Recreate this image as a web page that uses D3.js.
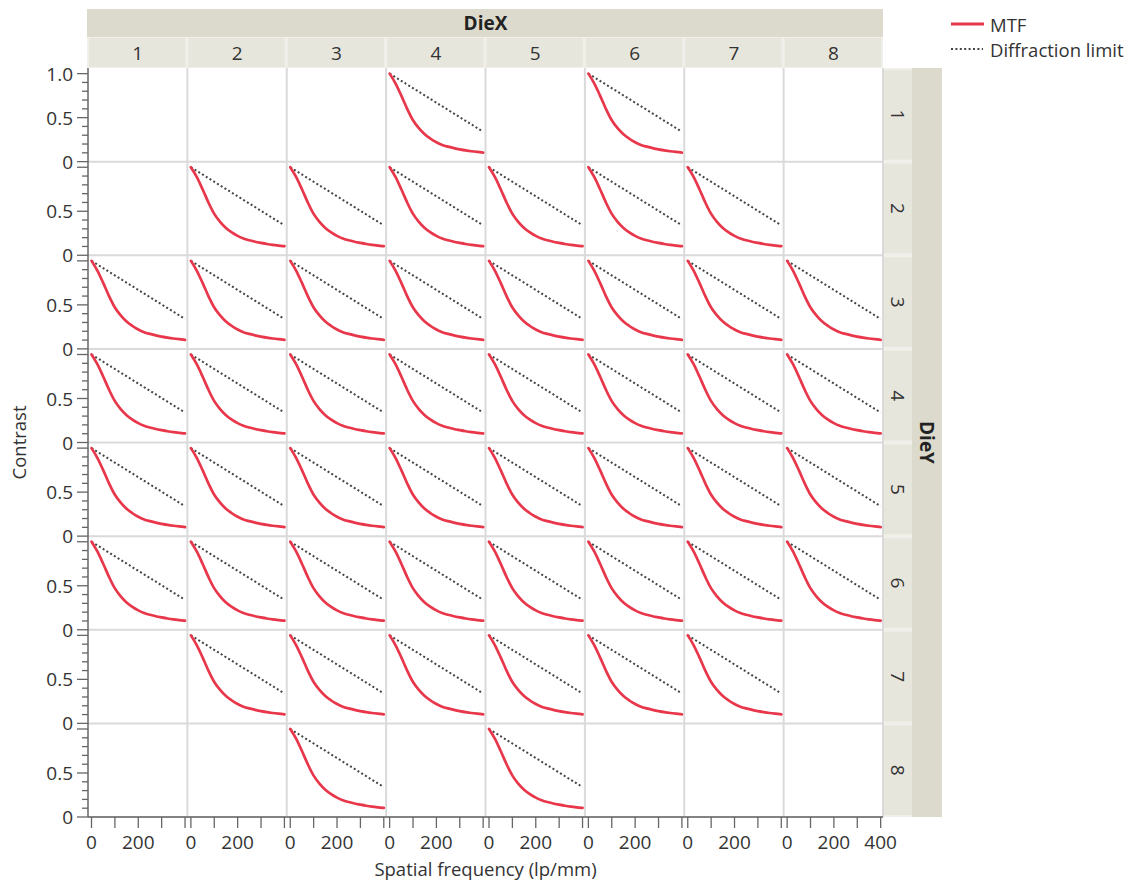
<!DOCTYPE html>
<html><head><meta charset="utf-8">
<script src="https://cdn.jsdelivr.net/npm/d3@7"></script>
<style>
html,body{margin:0;padding:0;background:#fff;}
svg{display:block;font-family:"Open Sans","Noto Sans",sans-serif;}
</style></head>
<body>
<script>
// ---- data ----
const dieX = [1,2,3,4,5,6,7,8];
const dieY = [1,2,3,4,5,6,7,8];
// [DieX, DieY] cells that carry a measurement
const cellsX = [4,6, 2,3,4,5,6,7, 1,2,3,4,5,6,7,8, 1,2,3,4,5,6,7,8, 1,2,3,4,5,6,7,8, 1,2,3,4,5,6,7,8, 2,3,4,5,6,7, 3,5];
const cellsY = [1,1, 2,2,2,2,2,2, 3,3,3,3,3,3,3,3, 4,4,4,4,4,4,4,4, 5,5,5,5,5,5,5,5, 6,6,6,6,6,6,6,6, 7,7,7,7,7,7, 8,8];
const freq = [0,25,50,75,100,125,150,175,200,225,250,275,300,325,350,375,400];
const mtf  = [1.0,0.89,0.75,0.60,0.47,0.38,0.31,0.26,0.22,0.19,0.17,0.153,0.14,0.128,0.118,0.11,0.103];
const diffFreq = [0,400];
const diffLimit = [1.0,0.34];
const xTicks = [0,100,200,300,400];
const xTickLabels = ["0","","200","",""];
const yTicks = [0,0.1,0.2,0.3,0.4,0.5,0.6,0.7,0.8,0.9,1.0];
const yMajor = [0,0.5,1.0];
const seriesNames = ["MTF","Diffraction limit"];

// ---- layout ----
const W=1130,H=882;
const L=88,R=883,T=68,B=817;
const red="#e8374b";
const svg=d3.select("body").append("svg").attr("width",W).attr("height",H);

const colBand=d3.scaleBand().domain(dieX).range([L,R]);
const rowBand=d3.scaleBand().domain(dieY).range([T,B]);
const cw=colBand.bandwidth(), rh=rowBand.bandwidth();

// strips
svg.append("rect").attr("x",L-1).attr("y",9).attr("width",R-L+1).attr("height",28).attr("fill","#dcdacc");
svg.append("text").attr("x",(L+R)/2).attr("y",23).attr("text-anchor","middle").attr("dominant-baseline","central")
  .attr("font-weight","bold").attr("font-size",19).attr("fill","#222").text("DieX");
svg.append("rect").attr("x",L-1).attr("y",37).attr("width",R-L+1).attr("height",31).attr("fill","#f0efe9");
dieX.forEach(c=>{
  const x=colBand(c);
  svg.append("rect").attr("x",x+1).attr("y",38).attr("width",cw-3).attr("height",29).attr("fill","#e7e6dd");
  svg.append("text").attr("x",x+cw/2).attr("y",53).attr("text-anchor","middle").attr("dominant-baseline","central")
    .attr("font-size",19).attr("fill","#333").text(c);
});
svg.append("rect").attr("x",912).attr("y",T).attr("width",30).attr("height",B-T).attr("fill","#dcdacc");
svg.append("rect").attr("x",R).attr("y",T).attr("width",29).attr("height",B-T).attr("fill","#f0efe9");
dieY.forEach(r=>{
  const y=rowBand(r);
  svg.append("rect").attr("x",R+1).attr("y",y+2).attr("width",28).attr("height",rh-4).attr("fill","#e7e6dd");
  svg.append("text").attr("transform",`translate(${R+15},${y+rh/2}) rotate(90)`).attr("text-anchor","middle")
    .attr("dominant-baseline","central").attr("font-size",19).attr("fill","#333").text(r);
});
svg.append("text").attr("transform",`translate(927,${(T+B)/2}) rotate(90)`).attr("text-anchor","middle")
  .attr("dominant-baseline","central").attr("font-weight","bold").attr("font-size",19).attr("fill","#222").text("DieY");

// grid
const g=svg.append("g");
dieX.forEach(c=>{ g.append("line").attr("x1",colBand(c)+cw).attr("x2",colBand(c)+cw).attr("y1",T).attr("y2",B).attr("stroke","#dadada").attr("stroke-width",2); });
dieY.forEach(r=>{ g.append("line").attr("x1",L).attr("x2",R).attr("y1",rowBand(r)+rh).attr("y2",rowBand(r)+rh).attr("stroke","#dadada").attr("stroke-width",2); });

// per-cell scales
const xs=c=>d3.scaleLinear().domain([-15,410]).range([colBand(c),colBand(c)+cw]);
const ys=r=>d3.scaleLinear().domain([0,rh/88]).range([rowBand(r)+rh,rowBand(r)]);

// curves
const mtfData=freq.map((f,i)=>[f,mtf[i]]);
const diffData=diffFreq.map((f,i)=>[f,diffLimit[i]]);
cellsX.forEach((cx,i)=>{
  const cy=cellsY[i], x=xs(cx), y=ys(cy);
  const line=d3.line().x(d=>x(d[0])).y(d=>y(d[1]));
  g.append("path").attr("d",line(diffData)).attr("fill","none").attr("stroke","#444")
    .attr("stroke-width",2).attr("stroke-dasharray","2,2.4");
  g.append("path").attr("d",line.curve(d3.curveMonotoneX)(mtfData)).attr("fill","none").attr("stroke",red)
    .attr("stroke-width",2.7).attr("stroke-linecap","round");
});

// y axes
const axCol="#666";
dieY.forEach(r=>{
  const y=ys(r);
  const ax=svg.append("g").attr("transform",`translate(${L},0)`);
  yTicks.forEach(t=>{
    const major=yMajor.some(m=>Math.abs(m-t)<1e-9);
    ax.append("line").attr("x1",major?-11:-6).attr("x2",0).attr("y1",y(t)).attr("y2",y(t)).attr("stroke",axCol).attr("stroke-width",1.3);
  });
  yMajor.forEach(t=>{
    if(t===1.0 && r!==dieY[0]) return;
    ax.append("text").attr("x",-15).attr("y",y(t)).attr("text-anchor","end").attr("dominant-baseline","central")
      .attr("font-size",19).attr("fill","#333").text(t===0?"0":d3.format(".1f")(t));
  });
});
svg.append("line").attr("x1",L).attr("x2",L).attr("y1",T).attr("y2",B).attr("stroke",axCol).attr("stroke-width",1.5);

// x axes
dieX.forEach((c,ci)=>{
  const x=xs(c);
  const ax=svg.append("g").attr("transform",`translate(0,${B})`);
  xTicks.forEach((t,i)=>{
    ax.append("line").attr("x1",x(t)).attr("x2",x(t)).attr("y1",0).attr("y2",11).attr("stroke",axCol).attr("stroke-width",1.3);
    let lab=xTickLabels[i];
    if(t===400 && ci===dieX.length-1) lab="400";
    if(lab) ax.append("text").attr("x",x(t)).attr("y",25).attr("text-anchor","middle").attr("dominant-baseline","central")
      .attr("font-size",19).attr("fill","#333").text(lab);
  });
});
svg.append("line").attr("x1",L).attr("x2",R).attr("y1",B).attr("y2",B).attr("stroke",axCol).attr("stroke-width",1.5);

// axis titles
svg.append("text").attr("x",(L+R)/2).attr("y",868).attr("text-anchor","middle").attr("dominant-baseline","central")
  .attr("font-size",18.5).attr("fill","#333").text("Spatial frequency (lp/mm)");
svg.append("text").attr("transform",`translate(18,${(T+B)/2}) rotate(-90)`).attr("text-anchor","middle")
  .attr("dominant-baseline","central").attr("font-size",18.5).attr("fill","#333").text("Contrast");

// legend
const lg=svg.append("g");
lg.append("line").attr("x1",951).attr("x2",984).attr("y1",24).attr("y2",24).attr("stroke",red).attr("stroke-width",3);
lg.append("line").attr("x1",951).attr("x2",983).attr("y1",49).attr("y2",49).attr("stroke","#444").attr("stroke-width",2).attr("stroke-dasharray","2,2.4");
lg.append("text").attr("x",990).attr("y",24).attr("dominant-baseline","central").attr("font-size",18.5).attr("fill","#333").text(seriesNames[0]);
lg.append("text").attr("x",990).attr("y",49).attr("dominant-baseline","central").attr("font-size",18.5).attr("fill","#333").text(seriesNames[1]);
</script>
</body></html>
